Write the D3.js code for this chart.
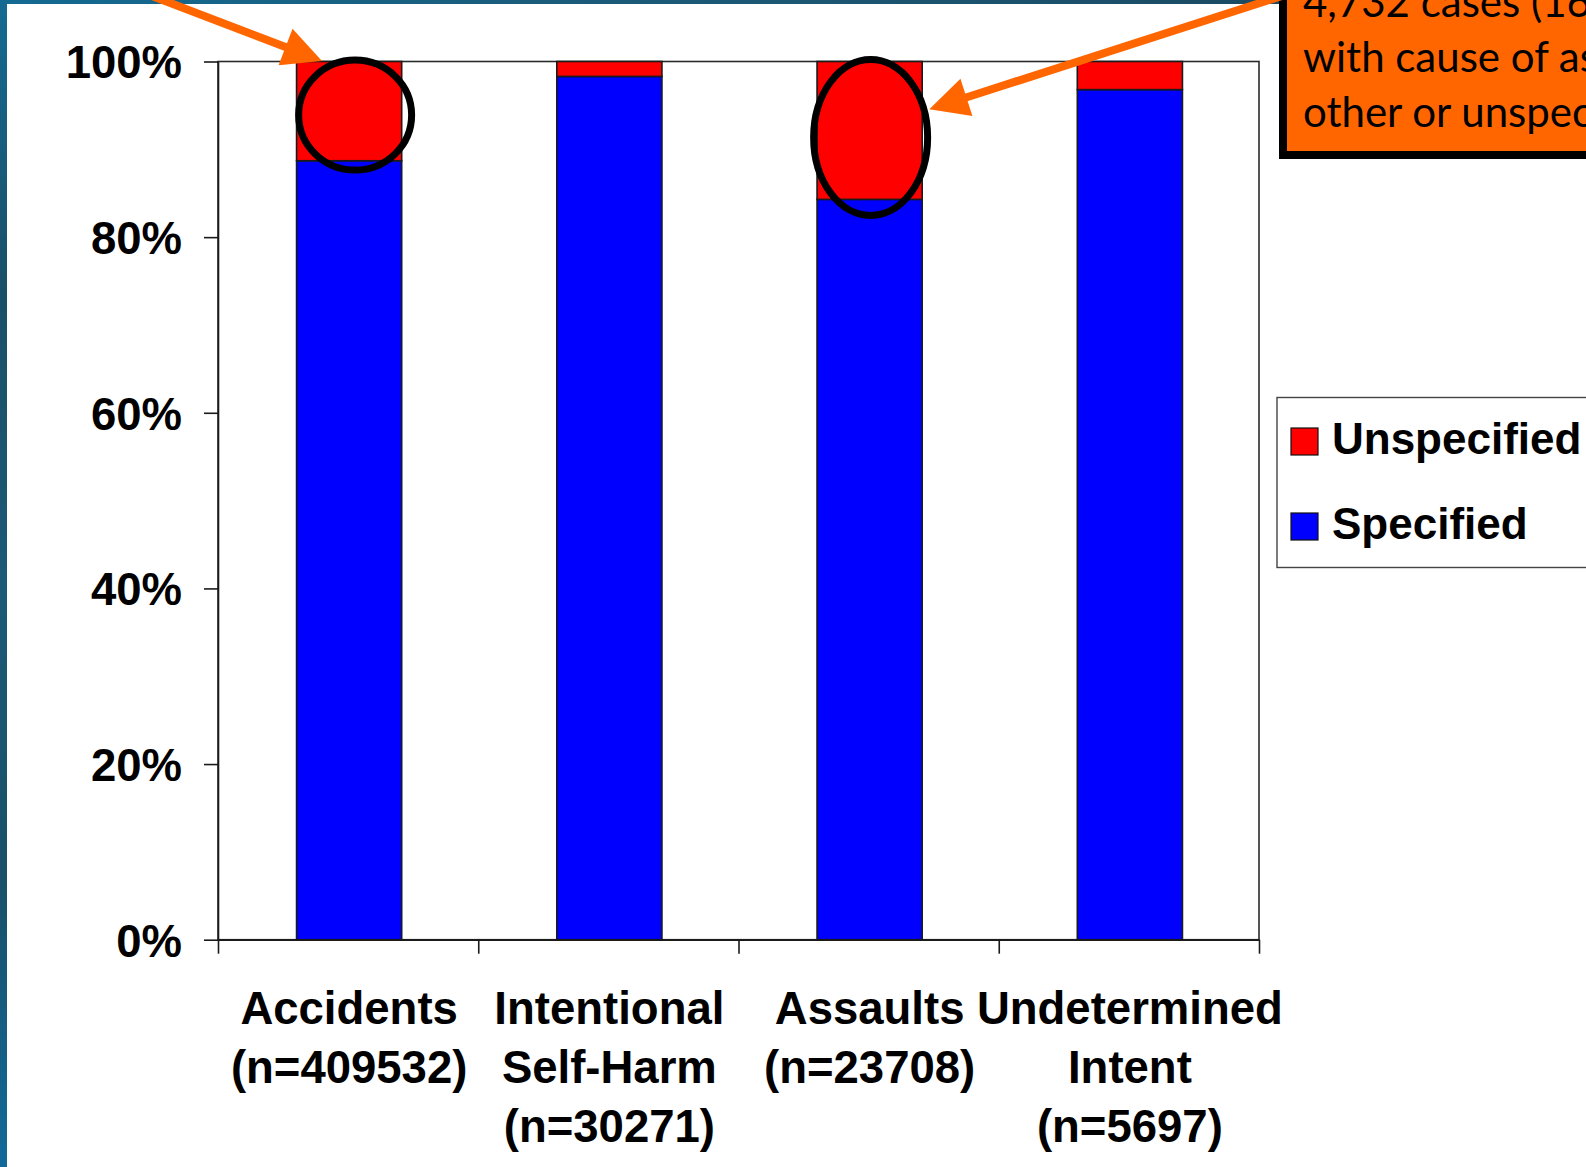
<!DOCTYPE html>
<html>
<head>
<meta charset="utf-8">
<script src="https://cdn.jsdelivr.net/npm/d3@7"></script>
<style>
  html, body { margin: 0; padding: 0; background: #ffffff; overflow: hidden; }
  svg { display: block; }
</style>
</head>
<body>
<svg id="chart" width="1586" height="1167"></svg>
<script>
// Share of cases with the cause specified / unspecified, by intent
const categories = ["Accidents", "Intentional Self-Harm", "Assaults", "Undetermined Intent"];
const categoryLines = [
  ["Accidents", "(n=409532)"],
  ["Intentional", "Self-Harm", "(n=30271)"],
  ["Assaults", "(n=23708)"],
  ["Undetermined", "Intent", "(n=5697)"]
];
const specified   = [88.7, 98.3, 84.3, 96.8];
const unspecified = [11.3, 1.7, 15.7, 3.2];
const seriesKeys  = ["specified", "unspecified"];
const legendNames = ["Unspecified", "Specified"];
const yTicks = [0, 20, 40, 60, 80, 100];
const calloutLines = ["4,732 cases (16%)", "with cause of assault", "other or unspecified"];

const colors = { specified: "#0000ff", unspecified: "#ff0000" };
const W = 1586, H = 1167;
const plot = { left: 218, right: 1259, top: 61.5, bottom: 939.7 };
const boldFont = "'Liberation Sans', Arial, sans-serif";
const boldSize = 45.5;

const svg = d3.select("#chart");

// slide frame: dark teal strips along the top and left edges
const defs = svg.append("defs");
const gTop = defs.append("linearGradient").attr("id", "frameTop").attr("x1", 0).attr("x2", 1).attr("y1", 0).attr("y2", 0);
[["0%", "#136a92"], ["35%", "#1b5c7a"], ["70%", "#1c4f69"], ["100%", "#1a3f56"]]
  .forEach(([o, c]) => gTop.append("stop").attr("offset", o).attr("stop-color", c));
const gLeft = defs.append("linearGradient").attr("id", "frameLeft").attr("x1", 0).attr("x2", 0).attr("y1", 0).attr("y2", 1);
[["0%", "#136a92"], ["25%", "#1b4f68"], ["50%", "#1c5a76"], ["75%", "#1a5068"], ["100%", "#11699a"]]
  .forEach(([o, c]) => gLeft.append("stop").attr("offset", o).attr("stop-color", c));
svg.append("rect").attr("x", 0).attr("y", 0).attr("width", W).attr("height", H).attr("fill", "#ffffff");
svg.append("rect").attr("x", 0).attr("y", 0).attr("width", W).attr("height", 4).attr("fill", "url(#frameTop)");
svg.append("rect").attr("x", 0).attr("y", 0).attr("width", 7).attr("height", H).attr("fill", "url(#frameLeft)");

// scales
const x = d3.scaleBand().domain(categories).range([plot.left, plot.right]).padding(0);
const y = d3.scaleLinear().domain([0, 100]).range([plot.bottom, plot.top]);
const barFrac = 0.404;
const barW = x.bandwidth() * barFrac;
const xc = c => x(c) + x.bandwidth() / 2;

const rows = categories.map((c, i) => ({ cat: c, specified: specified[i], unspecified: unspecified[i] }));
const stacked = d3.stack().keys(seriesKeys)(rows);

// plot frame
svg.append("rect")
  .attr("x", plot.left).attr("y", plot.top)
  .attr("width", plot.right - plot.left).attr("height", plot.bottom - plot.top)
  .attr("fill", "#ffffff").attr("stroke", "#2b2b2b").attr("stroke-width", 1.6);

// bars
const layers = svg.append("g").selectAll("g").data(stacked).join("g")
  .attr("fill", d => colors[d.key]);
layers.selectAll("rect").data(d => d).join("rect")
  .attr("x", d => xc(d.data.cat) - barW / 2 + 1)
  .attr("width", barW)
  .attr("y", d => y(d[1]))
  .attr("height", d => y(d[0]) - y(d[1]))
  .attr("stroke", "#1a1a1a").attr("stroke-width", 1.6);

// y axis
const yAxis = svg.append("g").attr("transform", `translate(${plot.left},0)`)
  .call(d3.axisLeft(y).tickValues(yTicks).tickSize(14).tickSizeOuter(0).tickPadding(22).tickFormat(d => d + "%"));
yAxis.select(".domain").attr("stroke", "#1a1a1a").attr("stroke-width", 1.6);
yAxis.selectAll(".tick line").attr("stroke", "#1a1a1a").attr("stroke-width", 1.6);
yAxis.selectAll(".tick text")
  .attr("font-family", boldFont)
  .attr("font-weight", "bold").attr("font-size", boldSize).attr("fill", "#000")
  .attr("dy", "0.36em");

// x axis: ticks on the category boundaries
const xEdges = d3.scaleLinear().domain([0, categories.length]).range([plot.left, plot.right]);
const xAxis = svg.append("g").attr("transform", `translate(0,${plot.bottom})`)
  .call(d3.axisBottom(xEdges).ticks(categories.length).tickSize(14).tickSizeOuter(0).tickFormat(""));
xAxis.select(".domain").attr("stroke", "#1a1a1a").attr("stroke-width", 1.8);
xAxis.selectAll(".tick line").attr("stroke", "#1a1a1a").attr("stroke-width", 1.6);

// category labels
const lab = svg.append("g")
  .attr("font-family", boldFont)
  .attr("font-weight", "bold").attr("font-size", boldSize).attr("fill", "#000")
  .attr("text-anchor", "middle");
categories.forEach((c, i) => {
  const t = lab.append("text").attr("x", xc(c) + 1).attr("y", 1024);
  categoryLines[i].forEach((line, j) => {
    t.append("tspan").attr("x", xc(c) + 1).attr("y", 1024 + j * 59).text(line);
  });
});

// legend
const leg = svg.append("g");
leg.append("rect").attr("x", 1277).attr("y", 397.5).attr("width", 400).attr("height", 170)
  .attr("fill", "#ffffff").attr("stroke", "#444").attr("stroke-width", 1.4);
const legKeys = ["unspecified", "specified"];
legKeys.forEach((k, i) => {
  const gy = 428 + i * 85;
  leg.append("rect").attr("x", 1291).attr("y", gy).attr("width", 27).attr("height", 27)
    .attr("fill", colors[k]).attr("stroke", "#111").attr("stroke-width", 1.2);
  leg.append("text").attr("x", 1332).attr("y", gy + 26)
    .attr("font-family", boldFont)
    .attr("font-weight", "bold").attr("font-size", 44).attr("fill", "#000")
    .text(legendNames[i]);
});

// highlight rings around the unspecified segments
const rings = [
  { cat: "Accidents", dx: 7, dy: 4, rx: 56.5, ry: 55 },
  { cat: "Assaults", dx: 2, dy: 7, rx: 57, ry: 78 }
];
rings.forEach(r => {
  const i = categories.indexOf(r.cat);
  svg.append("ellipse")
    .attr("cx", xc(r.cat) + r.dx)
    .attr("cy", y((100 + specified[i]) / 2) + r.dy)
    .attr("rx", r.rx).attr("ry", r.ry)
    .attr("fill", "none").attr("stroke", "#000").attr("stroke-width", 7);
});

// callout box (top right)
const orange = "#ff6600";
svg.append("rect").attr("x", 1283).attr("y", -120).attr("width", 420).attr("height", 275)
  .attr("fill", orange).attr("stroke", "#000").attr("stroke-width", 8);
const ct = svg.append("text")
  .attr("font-family", "Lato, 'Open Sans', sans-serif")
  .attr("font-size", 42).attr("fill", "#000");
calloutLines.forEach((line, j) => {
  ct.append("tspan").attr("x", 1303).attr("y", 17 + j * 55).text(line);
});

// orange arrows
function arrow(tip, dir, len) {
  const [ux, uy] = dir;
  const n = Math.hypot(ux, uy), dx = ux / n, dy = uy / n;
  const headL = 39, headW = 19.5;
  const base = [tip[0] + dx * headL, tip[1] + dy * headL];
  const start = [tip[0] + dx * len, tip[1] + dy * len];
  svg.append("line")
    .attr("x1", start[0]).attr("y1", start[1]).attr("x2", base[0] - dx * 2).attr("y2", base[1] - dy * 2)
    .attr("stroke", orange).attr("stroke-width", 8);
  const px = -dy, py = dx;
  svg.append("path")
    .attr("d", d3.line()([
      tip,
      [base[0] + px * headW, base[1] + py * headW],
      [base[0] - px * headW, base[1] - py * headW]
    ]) + "Z")
    .attr("fill", orange);
}
arrow([322, 61], [-0.934, -0.357], 420);
arrow([929.3, 109.3], [0.952, -0.306], 400);
</script>
</body>
</html>
